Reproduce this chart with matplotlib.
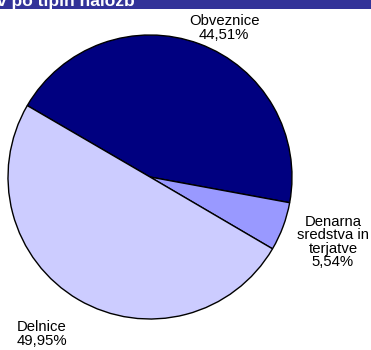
import matplotlib.pyplot as plt
from matplotlib.patches import Rectangle

plt.rcParams['font.family'] = ['Liberation Sans', 'DejaVu Sans']

# structure of investments by type
labels = ['Obveznice', 'Denarna\nsredstva in\nterjatve', 'Delnice']
shares = [44.51, 5.54, 49.95]
colors = ['#000080', '#9999FF', '#CCCCFF']

W, H = 371, 350
fig = plt.figure(figsize=(W / 100, H / 100), dpi=100)

# header strip, most of the title sits above the visible area
fig.patches.append(Rectangle((0, 1 - 9 / H), 1, 9 / H, transform=fig.transFigure,
                             facecolor='#333399', edgecolor='none'))
fig.text(135 / W, 1 - 6 / H, 'v po tipih naložb', color='white', fontsize=12.5,
         fontweight='bold', ha='right', va='baseline')

# pie: centre (150, 177) px, radius 142 px
r = 142
ax = fig.add_axes([(150 - r) / W, 1 - (177 + r) / H, 2 * r / W, 2 * r / H])
ax.pie(shares, colors=colors, startangle=149.8, counterclock=False,
       wedgeprops=dict(edgecolor='black', linewidth=1.0))
ax.set_xlim(-1, 1)
ax.set_ylim(-1, 1)
ax.set_aspect('auto')
ax.axis('off')

def fmt(v):
    return f'{v:.2f}'.replace('.', ',') + '%'

label_pos = [(224, 28), (333, 242), (42, 334)]
for lab, v, (x, y) in zip(labels, shares, label_pos):
    fig.text(x / W, 1 - y / H, lab + '\n' + fmt(v), fontsize=10.7, ha='center',
             va='center', linespacing=0.95, color='black')

fig.savefig('out.png', dpi=100)
